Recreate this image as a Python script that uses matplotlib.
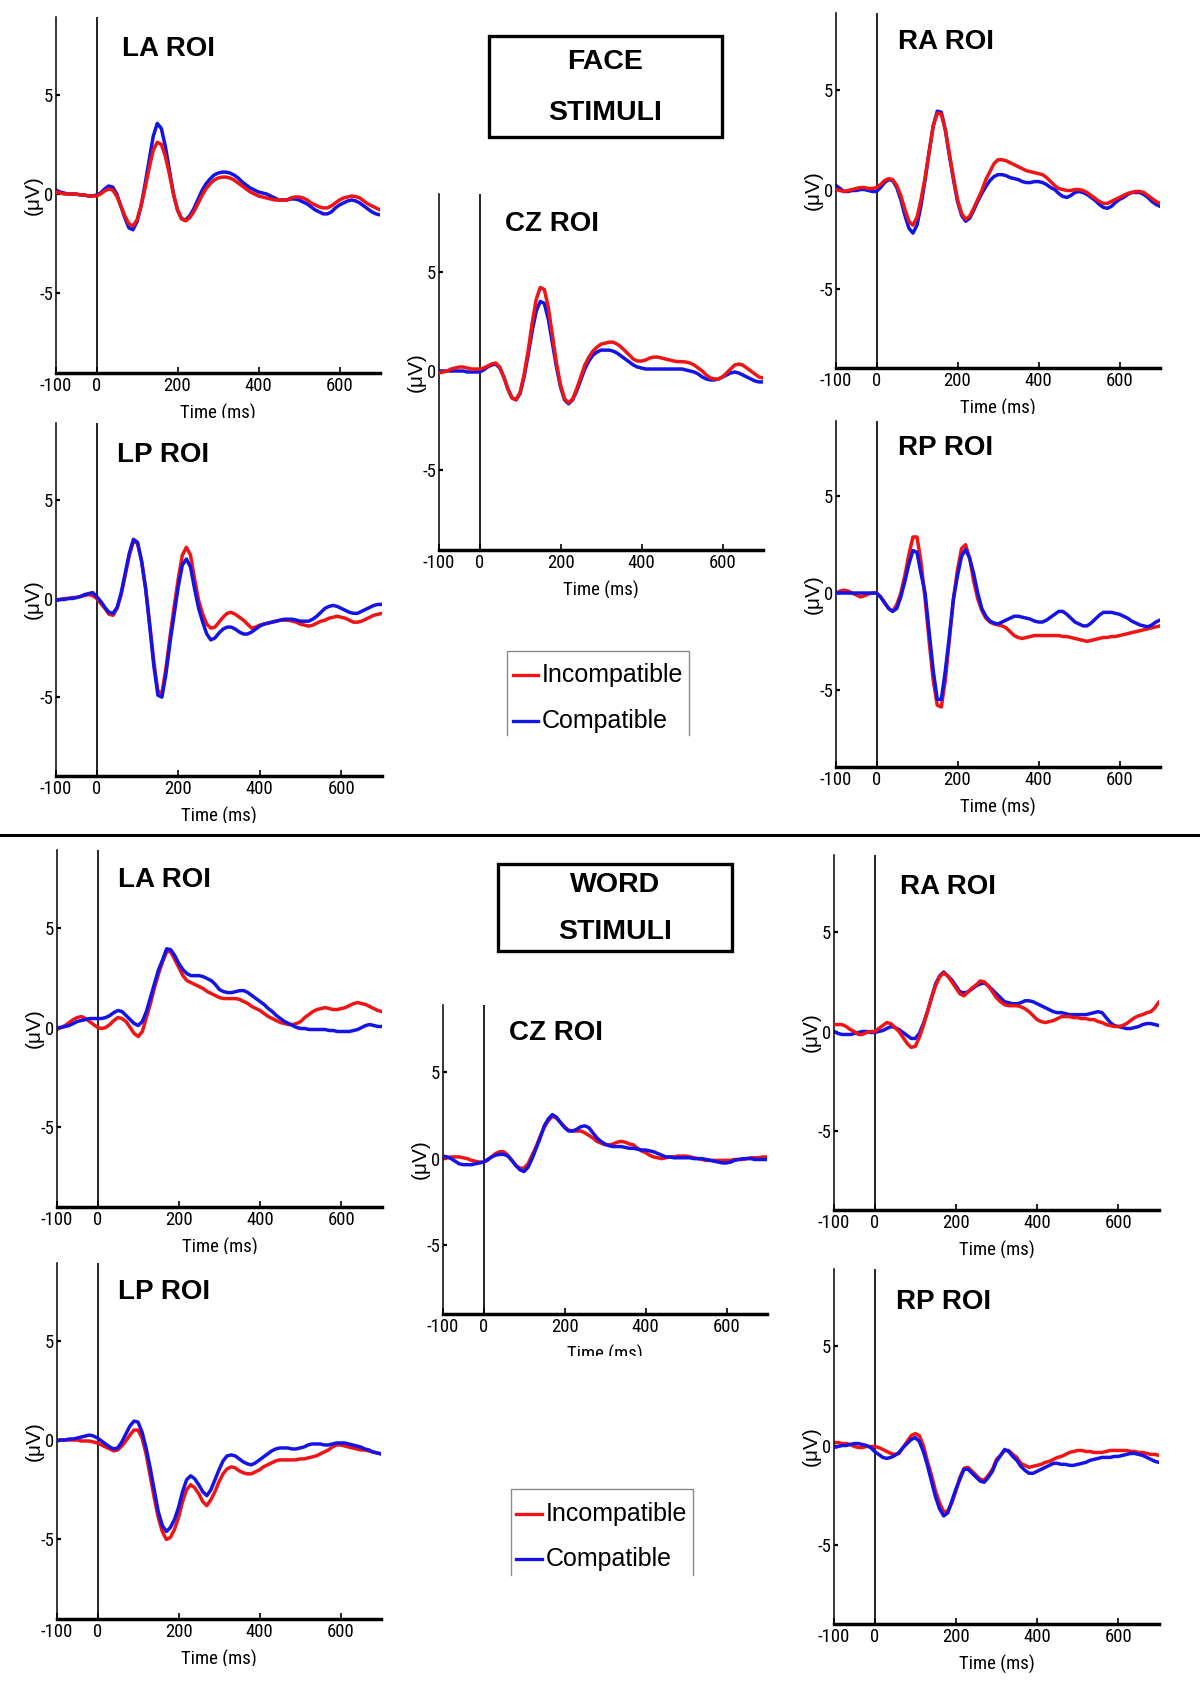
import numpy as np
import matplotlib
matplotlib.use("Agg")
import matplotlib.pyplot as plt
from matplotlib.lines import Line2D
from matplotlib.patches import Rectangle
from matplotlib.transforms import Bbox
from matplotlib import font_manager as fm

# ---------------------------------------------------------------- data
TIME = np.arange(-100, 701, 10)          # ms, sampling of the read-off values
XTICKS = [-100, 0, 200, 400, 600]
YTICKS = [-5, 0, 5]
SERIES_NAMES = ["Incompatible", "Compatible"]
ROI_LABELS = ["LA ROI", "CZ ROI", "RA ROI", "LP ROI", "RP ROI"]
STIM_TITLES = [["FACE", "STIMULI"], ["WORD", "STIMULI"]]

FACE_LA_INC = [0.1, 0.05, 0.0, 0.0, 0.0, 0.0, -0.05, -0.05, -0.1, -0.1,
               -0.1, 0.0, 0.15, 0.25, 0.2, -0.1, -0.6, -1.1, -1.5, -1.6,
               -1.3, -0.6, 0.3, 1.3, 2.2, 2.6, 2.5, 1.9, 1.0, 0.0,
               -0.8, -1.25, -1.35, -1.2, -0.9, -0.5, -0.1, 0.25, 0.5, 0.7,
               0.8, 0.85, 0.85, 0.8, 0.7, 0.55, 0.4, 0.25, 0.1, 0.0,
               -0.1, -0.15, -0.2, -0.25, -0.3, -0.3, -0.3, -0.3, -0.2, -0.15,
               -0.15, -0.2, -0.3, -0.45, -0.55, -0.65, -0.7, -0.7, -0.6, -0.45,
               -0.3, -0.2, -0.15, -0.1, -0.13, -0.2, -0.35, -0.5, -0.6, -0.7,
               -0.8]
FACE_LA_COM = [0.2, 0.1, 0.05, 0.0, 0.0, 0.0, -0.05, -0.05, -0.1, -0.1,
               -0.05, 0.05, 0.25, 0.4, 0.35, 0.0, -0.6, -1.2, -1.7, -1.8,
               -1.4, -0.6, 0.5, 1.7, 2.9, 3.55, 3.3, 2.4, 1.2, 0.0,
               -0.8, -1.25, -1.3, -1.1, -0.75, -0.3, 0.15, 0.5, 0.75, 0.95,
               1.05, 1.1, 1.1, 1.05, 0.95, 0.8, 0.6, 0.45, 0.3, 0.2,
               0.1, 0.05, 0.0, -0.1, -0.2, -0.3, -0.3, -0.3, -0.25, -0.25,
               -0.3, -0.4, -0.5, -0.65, -0.8, -0.9, -1.0, -1.0, -0.9, -0.7,
               -0.55, -0.45, -0.35, -0.3, -0.35, -0.45, -0.6, -0.75, -0.9, -1.0,
               -1.05]
FACE_CZ_INC = [-0.1, -0.05, 0.0, 0.1, 0.15, 0.2, 0.2, 0.15, 0.1, 0.1,
               0.1, 0.15, 0.25, 0.35, 0.4, 0.2, -0.3, -0.9, -1.35, -1.45,
               -1.1, -0.2, 1.0, 2.4, 3.6, 4.2, 4.1, 3.2, 1.8, 0.4,
               -0.7, -1.4, -1.6, -1.4, -0.9, -0.3, 0.3, 0.7, 1.0, 1.2,
               1.35, 1.4, 1.45, 1.45, 1.35, 1.2, 1.0, 0.8, 0.6, 0.5,
               0.5, 0.55, 0.65, 0.7, 0.7, 0.65, 0.6, 0.55, 0.5, 0.47,
               0.47, 0.45, 0.4, 0.3, 0.15, 0.0, -0.2, -0.35, -0.4, -0.4,
               -0.3, -0.1, 0.1, 0.3, 0.35, 0.3, 0.15, 0.0, -0.15, -0.3,
               -0.35]
FACE_CZ_COM = [0.0, 0.0, 0.0, 0.0, 0.0, 0.0, 0.0, -0.05, -0.05, -0.05,
               -0.05, 0.05, 0.2, 0.3, 0.35, 0.15, -0.3, -0.9, -1.35, -1.45,
               -1.15, -0.3, 0.8, 2.0, 3.0, 3.5, 3.4, 2.6, 1.4, 0.2,
               -0.8, -1.45, -1.65, -1.45, -1.0, -0.45, 0.1, 0.5, 0.8, 0.95,
               1.05, 1.05, 1.05, 1.0, 0.9, 0.75, 0.6, 0.45, 0.3, 0.2,
               0.15, 0.1, 0.1, 0.1, 0.1, 0.1, 0.1, 0.1, 0.1, 0.1,
               0.1, 0.05, 0.0, -0.05, -0.15, -0.3, -0.4, -0.45, -0.45, -0.4,
               -0.3, -0.2, -0.1, -0.05, -0.1, -0.2, -0.3, -0.4, -0.5, -0.55,
               -0.55]
FACE_RA_INC = [0.0, -0.05, -0.1, -0.05, 0.0, 0.05, 0.1, 0.1, 0.05, 0.05,
               0.1, 0.25, 0.45, 0.55, 0.5, 0.2, -0.3, -1.0, -1.6, -1.8,
               -1.4, -0.5, 0.6, 1.9, 3.2, 3.85, 3.8, 3.0, 1.8, 0.6,
               -0.5, -1.2, -1.5, -1.35, -0.95, -0.5, -0.05, 0.5, 0.9, 1.3,
               1.5, 1.5, 1.45, 1.35, 1.25, 1.15, 1.05, 0.95, 0.9, 0.85,
               0.8, 0.75, 0.6, 0.4, 0.2, 0.05, 0.0, -0.05, -0.05, 0.0,
               0.0, -0.05, -0.15, -0.3, -0.45, -0.6, -0.7, -0.7, -0.6, -0.5,
               -0.4, -0.3, -0.2, -0.15, -0.1, -0.1, -0.15, -0.3, -0.45, -0.6,
               -0.7]
FACE_RA_COM = [0.2, 0.05, -0.1, -0.1, -0.05, -0.05, 0.0, 0.0, -0.05, -0.1,
               -0.1, 0.1, 0.35, 0.5, 0.45, 0.1, -0.5, -1.3, -1.95, -2.2,
               -1.8, -0.8, 0.5, 1.9, 3.2, 3.95, 3.9, 3.0, 1.7, 0.5,
               -0.6, -1.3, -1.6, -1.45, -1.05, -0.6, -0.2, 0.15, 0.45, 0.65,
               0.75, 0.75, 0.7, 0.6, 0.55, 0.5, 0.4, 0.35, 0.35, 0.4,
               0.4, 0.35, 0.25, 0.1, 0.0, -0.2, -0.35, -0.4, -0.3, -0.15,
               -0.1, -0.15, -0.25, -0.4, -0.55, -0.75, -0.9, -0.95, -0.85, -0.65,
               -0.5, -0.4, -0.25, -0.15, -0.15, -0.15, -0.25, -0.4, -0.6, -0.75,
               -0.85]
FACE_LP_INC = [-0.1, -0.05, 0.0, 0.0, 0.05, 0.05, 0.1, 0.15, 0.2, 0.15,
               0.0, -0.25, -0.5, -0.8, -0.85, -0.5, 0.2, 1.2, 2.2, 2.9,
               2.8, 1.9, 0.5, -1.3, -3.2, -4.7, -4.8, -3.5, -1.9, -0.4,
               1.0, 2.2, 2.6, 2.2, 1.0, -0.1, -0.8, -1.3, -1.5, -1.45,
               -1.2, -0.95, -0.75, -0.7, -0.8, -0.95, -1.1, -1.3, -1.5, -1.45,
               -1.35, -1.3, -1.25, -1.2, -1.15, -1.1, -1.1, -1.1, -1.15, -1.2,
               -1.3, -1.35, -1.4, -1.35, -1.25, -1.15, -1.1, -1.0, -0.95, -0.9,
               -0.95, -1.0, -1.1, -1.2, -1.2, -1.15, -1.05, -0.95, -0.85, -0.8,
               -0.75]
FACE_LP_COM = [-0.1, -0.05, -0.05, 0.0, 0.0, 0.05, 0.1, 0.2, 0.25, 0.3,
               0.1, -0.15, -0.45, -0.7, -0.75, -0.45, 0.3, 1.3, 2.3, 3.0,
               2.85, 1.9, 0.5, -1.4, -3.4, -4.9, -5.0, -3.8, -2.2, -0.8,
               0.6, 1.7, 2.0, 1.6, 0.5, -0.5, -1.2, -1.8, -2.1, -2.0,
               -1.75, -1.55, -1.45, -1.45, -1.55, -1.7, -1.8, -1.8, -1.7, -1.55,
               -1.4, -1.3, -1.25, -1.2, -1.15, -1.1, -1.05, -1.05, -1.05, -1.1,
               -1.15, -1.15, -1.15, -1.05, -0.9, -0.7, -0.5, -0.4, -0.35, -0.4,
               -0.5, -0.6, -0.7, -0.75, -0.75, -0.65, -0.55, -0.45, -0.35, -0.3,
               -0.3]
FACE_RP_INC = [0.0, 0.1, 0.15, 0.1, 0.0, -0.1, -0.2, -0.15, -0.05, 0.0,
               0.0, -0.2, -0.5, -0.8, -0.95, -0.6, 0.0, 0.9, 2.0, 2.9,
               2.9, 1.6, -0.3, -2.5, -4.5, -5.8, -5.9, -4.5, -2.4, -0.3,
               1.2, 2.3, 2.5, 1.8, 0.6, -0.3, -0.9, -1.3, -1.5, -1.6,
               -1.65, -1.7, -1.8, -2.0, -2.2, -2.3, -2.35, -2.3, -2.25, -2.2,
               -2.2, -2.2, -2.2, -2.2, -2.2, -2.2, -2.25, -2.25, -2.3, -2.35,
               -2.4, -2.45, -2.5, -2.45, -2.4, -2.35, -2.3, -2.3, -2.25, -2.25,
               -2.2, -2.15, -2.1, -2.05, -2.0, -1.95, -1.9, -1.85, -1.8, -1.75,
               -1.7]
FACE_RP_COM = [0.0, 0.0, 0.0, 0.0, 0.0, 0.0, 0.0, 0.0, 0.0, 0.0,
               0.0, -0.2, -0.5, -0.8, -0.95, -0.8, -0.2, 0.6, 1.5, 2.2,
               2.1, 1.0, 0.0, -2.0, -4.0, -5.5, -5.5, -4.0, -2.2, -0.3,
               0.9, 1.9, 2.25, 1.8, 1.0, 0.0, -0.8, -1.2, -1.45, -1.55,
               -1.6, -1.5, -1.4, -1.3, -1.2, -1.2, -1.25, -1.3, -1.35, -1.45,
               -1.5, -1.5, -1.4, -1.25, -1.1, -0.95, -0.95, -1.1, -1.3, -1.5,
               -1.6, -1.7, -1.7, -1.55, -1.35, -1.15, -1.0, -1.0, -1.0, -1.05,
               -1.1, -1.2, -1.3, -1.45, -1.55, -1.65, -1.7, -1.75, -1.65, -1.5,
               -1.4]

WORD_LA_INC = [-0.1, 0.0, 0.1, 0.25, 0.4, 0.5, 0.55, 0.45, 0.3, 0.15,
               0.0, -0.05, 0.0, 0.15, 0.35, 0.5, 0.45, 0.3, 0.0, -0.3,
               -0.45, -0.2, 0.5, 1.2, 2.0, 2.7, 3.3, 3.8, 3.8, 3.4,
               3.0, 2.6, 2.35, 2.25, 2.15, 2.05, 1.95, 1.8, 1.7, 1.6,
               1.5, 1.45, 1.45, 1.45, 1.45, 1.4, 1.3, 1.2, 1.05, 0.95,
               0.85, 0.7, 0.55, 0.45, 0.35, 0.25, 0.2, 0.15, 0.15, 0.2,
               0.3, 0.5, 0.65, 0.8, 0.9, 0.95, 1.0, 0.95, 0.9, 0.9,
               0.95, 1.0, 1.1, 1.2, 1.25, 1.2, 1.15, 1.05, 0.95, 0.85,
               0.8]
WORD_LA_COM = [0.0, 0.0, 0.05, 0.1, 0.2, 0.3, 0.35, 0.4, 0.45, 0.45,
               0.45, 0.45, 0.5, 0.6, 0.75, 0.85, 0.8, 0.6, 0.4, 0.2,
               0.1, 0.3, 0.8, 1.5, 2.2, 2.9, 3.4, 3.95, 3.9, 3.6,
               3.2, 2.9, 2.7, 2.6, 2.6, 2.6, 2.55, 2.45, 2.35, 2.15,
               1.9, 1.8, 1.75, 1.75, 1.8, 1.85, 1.85, 1.75, 1.6, 1.45,
               1.3, 1.15, 0.95, 0.8, 0.6, 0.45, 0.3, 0.2, 0.1, 0.0,
               -0.05, -0.05, -0.1, -0.1, -0.1, -0.1, -0.1, -0.15, -0.15, -0.2,
               -0.2, -0.2, -0.2, -0.15, -0.1, 0.0, 0.1, 0.15, 0.1, 0.05,
               0.05]
WORD_CZ_INC = [0.0, 0.05, 0.1, 0.1, 0.1, 0.05, 0.0, -0.1, -0.15, -0.2,
               -0.2, -0.1, 0.1, 0.3, 0.4, 0.4, 0.2, -0.1, -0.4, -0.55,
               -0.55, -0.3, 0.2, 0.7, 1.3, 1.8, 2.2, 2.45, 2.35, 2.1,
               1.85, 1.65, 1.6, 1.6, 1.6, 1.5, 1.35, 1.2, 1.0, 0.9,
               0.8, 0.8, 0.85, 0.95, 1.0, 0.95, 0.85, 0.8, 0.6, 0.45,
               0.35, 0.2, 0.1, 0.05, 0.0, 0.05, 0.1, 0.1, 0.15, 0.15,
               0.15, 0.1, 0.05, 0.0, -0.05, -0.1, -0.1, -0.1, -0.1, -0.1,
               -0.1, -0.1, -0.05, -0.05, -0.05, 0.0, 0.05, 0.05, 0.05, 0.1,
               0.1]
WORD_CZ_COM = [0.15, 0.1, 0.0, -0.15, -0.3, -0.35, -0.35, -0.35, -0.3, -0.25,
               -0.2, -0.05, 0.1, 0.2, 0.25, 0.25, 0.15, -0.1, -0.4, -0.65,
               -0.75, -0.5, 0.0, 0.6, 1.2, 1.9, 2.3, 2.55, 2.4, 2.1,
               1.8, 1.6, 1.6, 1.7, 1.85, 1.9, 1.8, 1.5, 1.2, 1.0,
               0.85, 0.75, 0.7, 0.7, 0.7, 0.65, 0.6, 0.6, 0.55, 0.5,
               0.5, 0.45, 0.4, 0.3, 0.2, 0.1, 0.1, 0.05, 0.05, 0.05,
               0.05, 0.05, 0.0, 0.0, 0.0, -0.05, -0.1, -0.15, -0.2, -0.25,
               -0.25, -0.2, -0.1, -0.05, 0.0, 0.0, 0.0, -0.05, -0.05, -0.05,
               -0.05]
WORD_RA_INC = [0.35, 0.35, 0.35, 0.25, 0.1, 0.0, -0.15, -0.15, -0.05, 0.0,
               0.0, 0.15, 0.3, 0.45, 0.4, 0.2, 0.0, -0.3, -0.6, -0.8,
               -0.75, -0.3, 0.3, 1.0, 1.7, 2.3, 2.75, 2.95, 2.8, 2.5,
               2.2, 1.9, 1.8, 2.0, 2.2, 2.35, 2.55, 2.5, 2.3, 2.0,
               1.7, 1.5, 1.35, 1.3, 1.3, 1.3, 1.25, 1.15, 1.0, 0.8,
               0.6, 0.5, 0.45, 0.5, 0.55, 0.65, 0.75, 0.75, 0.75, 0.7,
               0.7, 0.65, 0.65, 0.6, 0.6, 0.5, 0.45, 0.35, 0.3, 0.25,
               0.25, 0.3, 0.4, 0.55, 0.7, 0.8, 0.85, 0.95, 1.0, 1.2,
               1.5]
WORD_RA_COM = [0.0, -0.1, -0.15, -0.15, -0.15, -0.1, -0.05, 0.0, 0.0, -0.05,
               -0.05, 0.0, 0.05, 0.15, 0.25, 0.2, 0.1, -0.05, -0.2, -0.35,
               -0.35, -0.1, 0.4, 1.0, 1.7, 2.4, 2.8, 3.0, 2.8, 2.6,
               2.3, 2.0, 1.95, 2.0, 2.15, 2.3, 2.4, 2.45, 2.3, 2.1,
               1.9, 1.7, 1.5, 1.45, 1.4, 1.4, 1.45, 1.55, 1.55, 1.5,
               1.4, 1.3, 1.2, 1.1, 1.0, 0.95, 0.95, 0.9, 0.85, 0.85,
               0.85, 0.85, 0.85, 0.9, 0.95, 1.0, 0.95, 0.7, 0.45, 0.3,
               0.25, 0.2, 0.15, 0.15, 0.2, 0.25, 0.35, 0.4, 0.4, 0.35,
               0.3]
WORD_LP_INC = [0.0, 0.0, 0.0, 0.0, 0.0, 0.0, -0.05, -0.05, -0.05, -0.1,
               -0.15, -0.25, -0.35, -0.45, -0.55, -0.5, -0.3, -0.05, 0.25, 0.5,
               0.5, 0.1, -0.7, -1.8, -2.9, -3.9, -4.6, -5.0, -4.9, -4.5,
               -3.9, -3.1, -2.5, -2.25, -2.4, -2.7, -3.1, -3.3, -3.0, -2.6,
               -2.1, -1.7, -1.45, -1.35, -1.4, -1.55, -1.65, -1.7, -1.7, -1.6,
               -1.5, -1.35, -1.25, -1.15, -1.05, -1.0, -1.0, -1.0, -1.0, -1.0,
               -0.95, -0.95, -0.9, -0.85, -0.8, -0.7, -0.6, -0.5, -0.35, -0.25,
               -0.25, -0.3, -0.35, -0.4, -0.45, -0.5, -0.5, -0.55, -0.6, -0.65,
               -0.7]
WORD_LP_COM = [-0.05, 0.0, 0.0, 0.05, 0.05, 0.1, 0.15, 0.2, 0.25, 0.2,
               0.1, -0.05, -0.2, -0.35, -0.45, -0.4, -0.1, 0.3, 0.7, 0.95,
               0.9, 0.4, -0.4, -1.4, -2.5, -3.6, -4.3, -4.6, -4.4, -4.0,
               -3.4, -2.6, -2.0, -1.8, -1.95, -2.25, -2.6, -2.8, -2.5, -2.0,
               -1.5, -1.05, -0.8, -0.75, -0.8, -0.95, -1.1, -1.2, -1.25, -1.15,
               -1.0, -0.85, -0.7, -0.55, -0.45, -0.4, -0.4, -0.4, -0.45, -0.45,
               -0.4, -0.35, -0.25, -0.2, -0.2, -0.2, -0.25, -0.25, -0.2, -0.15,
               -0.15, -0.15, -0.2, -0.25, -0.3, -0.35, -0.45, -0.5, -0.6, -0.65,
               -0.7]
WORD_RP_INC = [0.15, 0.15, 0.1, 0.1, 0.05, -0.05, -0.1, -0.1, -0.05, -0.05,
               -0.05, -0.1, -0.2, -0.3, -0.4, -0.45, -0.4, -0.1, 0.2, 0.5,
               0.6, 0.5, 0.0, -0.8, -1.5, -2.3, -2.9, -3.35, -3.3, -2.9,
               -2.3, -1.6, -1.15, -1.1, -1.3, -1.5, -1.7, -1.75, -1.5, -1.2,
               -0.7, -0.5, -0.25, -0.25, -0.45, -0.6, -0.9, -1.0, -1.1, -1.05,
               -1.0, -0.95, -0.85, -0.8, -0.7, -0.6, -0.55, -0.45, -0.35, -0.3,
               -0.25, -0.25, -0.3, -0.3, -0.35, -0.35, -0.35, -0.3, -0.25, -0.25,
               -0.25, -0.25, -0.25, -0.3, -0.3, -0.35, -0.35, -0.4, -0.45, -0.45,
               -0.5]
WORD_RP_COM = [-0.1, -0.05, 0.0, 0.0, 0.05, 0.1, 0.1, 0.05, 0.0, -0.1,
               -0.3, -0.45, -0.6, -0.65, -0.6, -0.5, -0.35, -0.1, 0.1, 0.3,
               0.4, 0.2, -0.3, -1.0, -1.8, -2.6, -3.2, -3.55, -3.4, -2.8,
               -2.2, -1.7, -1.2, -1.2, -1.4, -1.6, -1.8, -1.85, -1.6, -1.3,
               -0.8, -0.5, -0.2, -0.3, -0.55, -0.75, -1.05, -1.25, -1.4, -1.4,
               -1.3, -1.2, -1.1, -1.0, -0.9, -0.9, -0.95, -0.95, -1.0, -1.0,
               -0.95, -0.9, -0.85, -0.75, -0.7, -0.65, -0.6, -0.6, -0.6, -0.55,
               -0.55, -0.5, -0.45, -0.4, -0.4, -0.45, -0.5, -0.6, -0.7, -0.8,
               -0.85]

# ---------------------------------------------------------------- style / layout (pixels)
W, H = 1200, 1687
RED = "#f01414"
BLUE = "#1414e6"
SANS = ["Liberation Sans", "DejaVu Sans"]


def pick_narrow():
    for name in ("Liberation Sans Narrow", "Arial Narrow", "Nimbus Sans Narrow",
                 "Roboto Condensed", "Open Sans Condensed"):
        try:
            fm.findfont(fm.FontProperties(family=name), fallback_to_default=False)
            return [name, "DejaVu Sans"], 13.5
        except Exception:
            pass
    return SANS, 12.5


NARROW, TICK_FS = pick_narrow()

# (label index, inc, com, (left, right, top, bottom), (label x, label y), xlabel clip y, blue on top)
PANELS = [
    (0, FACE_LA_INC, FACE_LA_COM, (56, 380, 17, 373), (122, 49), 418, False),
    (1, FACE_CZ_INC, FACE_CZ_COM, (439, 763, 194, 550), (505, 224), 598, False),
    (2, FACE_RA_INC, FACE_RA_COM, (836, 1160, 13, 368), (898, 42), 414, False),
    (3, FACE_LP_INC, FACE_LP_COM, (56, 382, 423, 776), (117, 455), 823, True),
    (4, FACE_RP_INC, FACE_RP_COM, (836, 1160, 421, 767), (898, 448), None, True),
    (0, WORD_LA_INC, WORD_LA_COM, (57, 382, 850, 1207), (118, 880), 1254, True),
    (1, WORD_CZ_INC, WORD_CZ_COM, (443, 767, 1005, 1314), (509, 1033), 1356, True),
    (2, WORD_RA_INC, WORD_RA_COM, (834, 1159, 855, 1210), (900, 887), 1258, False),
    (3, WORD_LP_INC, WORD_LP_COM, (57, 381, 1263, 1619), (118, 1292), 1666, True),
    (4, WORD_RP_INC, WORD_RP_COM, (834, 1159, 1269, 1624), (896, 1302), None, True),
]
# title boxes: (left, right, top, bottom), line y's, center x
TITLE_BOXES = [((489, 722, 36, 137), (62, 113), 605),
               ((498, 732, 864, 951), (885, 932), 615)]
# legends: box (left, right, top, open bottom), text x, row y's, handle x0, x1
LEGENDS = [((507, 689, 651, 735), 542, (675, 721), 513, 538),
           ((511, 693, 1489, 1575), 546, (1514, 1559), 516, 542)]
DIVIDER_Y = 835


def fx(px):
    return px / W


def fy(py):
    return 1.0 - py / H


fig = plt.figure(figsize=(W / 100, H / 100), dpi=100)
fig.patch.set_facecolor("white")

for li, inc, com, (l, r, t, b), (lx, ly), clip_y, blue_top in PANELS:
    wpx, hpx = r - l, b - t
    ax = fig.add_axes([fx(l), fy(b), wpx / W, hpx / H])
    ax.set_facecolor("none")
    ax.set_xlim(-100, 700)
    ax.set_ylim(-9, 8.9)
    ax.plot(TIME, inc, color=RED, lw=2.5, zorder=2 if blue_top else 3,
            solid_joinstyle="round", solid_capstyle="round", label=SERIES_NAMES[0])
    ax.plot(TIME, com, color=BLUE, lw=2.5, zorder=3 if blue_top else 2,
            solid_joinstyle="round", solid_capstyle="round", label=SERIES_NAMES[1])
    ax.axvline(0, color="black", lw=1.2, zorder=1)
    for s in ("top", "right"):
        ax.spines[s].set_visible(False)
    ax.spines["left"].set_linewidth(1.1)
    ax.spines["bottom"].set_linewidth(2.5)
    ax.set_xticks(XTICKS)
    ax.set_xticklabels([str(v) for v in XTICKS])
    ax.set_yticks(YTICKS)
    ax.set_yticklabels([str(v) for v in YTICKS])
    ax.tick_params(axis="x", direction="in", length=4, width=1.2, pad=3, labelsize=TICK_FS)
    ax.tick_params(axis="y", direction="in", length=3, width=1.6, pad=2, labelsize=TICK_FS)
    for lab in ax.get_xticklabels() + ax.get_yticklabels():
        lab.set_fontfamily(NARROW)
    ax.set_xlabel("Time (ms)", fontsize=TICK_FS, family=NARROW)
    ax.xaxis.set_label_coords(0.5, -40 / hpx)
    ax.xaxis.label.set_va("center")
    ax.set_ylabel("(\u03bcV)", fontsize=15, family=SANS)
    ax.yaxis.set_label_coords(-23 / wpx, 0.5)
    ax.yaxis.label.set_va("center")
    if clip_y is not None:
        xl = ax.xaxis.label
        xl.set_clip_on(True)
        xl.set_clip_box(Bbox([[0, H - clip_y], [W, H]]))
    fig.text(fx(lx), fy(ly), ROI_LABELS[li], fontsize=20, fontweight="bold",
             family=SANS, ha="left", va="center")

for ti, ((l, r, t, b), (y1, y2), cx) in enumerate(TITLE_BOXES):
    fig.add_artist(Rectangle((fx(l), fy(b)), (r - l) / W, (b - t) / H,
                             transform=fig.transFigure, fill=False,
                             edgecolor="black", lw=2.4))
    fig.text(fx(cx), fy(y1), STIM_TITLES[ti][0], fontsize=20.5, fontweight="bold",
             family=SANS, ha="center", va="center")
    fig.text(fx(cx), fy(y2), STIM_TITLES[ti][1], fontsize=20.5, fontweight="bold",
             family=SANS, ha="center", va="center")

for (l, r, t, b), tx, (y1, y2), hx0, hx1 in LEGENDS:
    edge = "#8a8a8a"
    fig.add_artist(Line2D([fx(l), fx(l), fx(r), fx(r)], [fy(b), fy(t), fy(t), fy(b)],
                          transform=fig.transFigure, color=edge, lw=1.0))
    for yy, col, name in ((y1, RED, SERIES_NAMES[0]), (y2, BLUE, SERIES_NAMES[1])):
        fig.add_artist(Line2D([fx(hx0), fx(hx1)], [fy(yy), fy(yy)],
                              transform=fig.transFigure, color=col, lw=2.4))
        fig.text(fx(tx), fy(yy), name, fontsize=18, family=SANS,
                 ha="left", va="center")

fig.add_artist(Line2D([0, 1], [fy(DIVIDER_Y), fy(DIVIDER_Y)],
                      transform=fig.transFigure, color="black", lw=2.2))

fig.savefig("out.png", dpi=100, facecolor="white")
